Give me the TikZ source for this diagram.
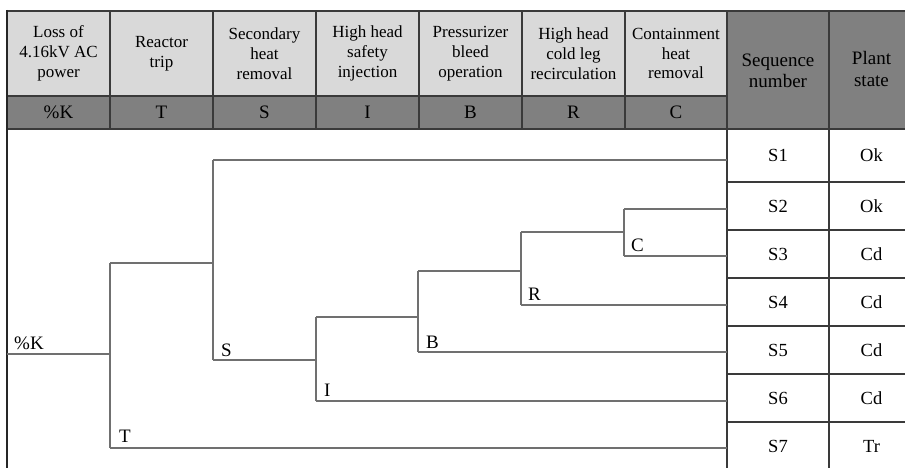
\documentclass[tikz,border=0pt]{standalone}
\usepackage{fontspec}
\setmainfont{Liberation Serif}
\definecolor{hdrlight}{HTML}{D9D9D9}
\definecolor{hdrdark}{HTML}{808080}
\definecolor{gridcol}{HTML}{3A3A3A}
\definecolor{branchcol}{HTML}{707070}
\begin{document}
\begin{tikzpicture}[x=1pt,y=-1pt,
  gridline/.style={draw=gridcol,line width=1.3pt},
  frameline/.style={draw=black!85,line width=2pt},
  branch/.style={draw=branchcol,line width=1.2pt},
  hdrtext/.style={align=center,inner sep=0pt,font=\fontsize{17}{19.8}\selectfont},
  codetext/.style={inner sep=0pt,font=\fontsize{19}{22}\selectfont},
  bighdr/.style={align=center,inner sep=0pt,font=\fontsize{19}{21.6}\selectfont},
  celltext/.style={inner sep=0pt,font=\fontsize{18.5}{22}\selectfont},
  branchlabel/.style={anchor=base west,inner sep=0pt,font=\fontsize{19}{22}\selectfont}]
\useasboundingbox (0,0) rectangle (905,468);
\clip (0,0) rectangle (905,468);

% header backgrounds
\fill[hdrlight] (7,11) rectangle (727,96);
\fill[hdrdark] (7,96) rectangle (727,129);
\fill[hdrdark] (727,11) rectangle (915,129);

% header grid
\draw[gridline] (7,11) -- (915,11);
\draw[gridline] (7,96) -- (727,96);
\draw[gridline] (7,129) -- (915,129);
\foreach \x in {110,213,316,419,522,625}
  \draw[gridline] (\x,11) -- (\x,129);
\draw[gridline] (727,11) -- (727,470);
\draw[gridline] (829,11) -- (829,470);
\foreach \y in {182,230,278,326,374,422}
  \draw[gridline] (727,\y) -- (915,\y);
\draw[frameline] (7,10) -- (7,470);

% function event headers
\node[hdrtext] (h1) at (58.5,53.5) {Loss of\\4.16kV AC\\power};
\node[hdrtext] (h2) at (161.5,53.5) {Reactor\\trip};
\node[hdrtext] (h3) at (264.5,53.5) {Secondary\\heat\\removal};
\node[hdrtext] (h4) at (367.5,53.5) {High head\\safety\\injection};
\node[hdrtext] (h5) at (470.5,53.5) {Pressurizer\\bleed\\operation};
\node[hdrtext] (h6) at (573.5,53.5) {High head\\cold leg\\recirculation};
\node[hdrtext] (h7) at (676,53.5) {Containment\\heat\\removal};

% event codes
\node[codetext] (c1) at (58.5,112.5) {\%K};
\node[codetext] (c2) at (161.5,112.5) {T};
\node[codetext] (c3) at (264.5,112.5) {S};
\node[codetext] (c4) at (367.5,112.5) {I};
\node[codetext] (c5) at (470.5,112.5) {B};
\node[codetext] (c6) at (573.5,112.5) {R};
\node[codetext] (c7) at (676,112.5) {C};

\node[bighdr] (seqh) at (778,71) {Sequence\\number};
\node[bighdr] (plh) at (871.5,69) {Plant\\state};

% sequence rows
\foreach \n/\y/\st in {1/155.5/Ok,2/206/Ok,3/254/Cd,4/302/Cd,5/350/Cd,6/398/Cd,7/446/Tr}{
  \node[celltext] (s\n) at (778,\y) {S\n};
  \node[celltext] (p\n) at (871.5,\y) {\st};
}

% event tree branch points
\coordinate (root) at (7,354);
\coordinate (tT) at (110,263); \coordinate (bT) at (110,448);
\coordinate (tS) at (213,160); \coordinate (bS) at (213,360);
\coordinate (tI) at (316,317); \coordinate (bI) at (316,401);
\coordinate (tB) at (418,271); \coordinate (bB) at (418,352);
\coordinate (tR) at (521,232); \coordinate (bR) at (521,305);
\coordinate (tC) at (624,209); \coordinate (bC) at (624,256);
\foreach \n/\y in {1/160,2/209,3/256,4/305,5/352,6/401,7/448}
  \coordinate (e\n) at (727,\y);

% event tree
\draw[branch] (root) -- (root -| tT);
\draw[branch] (tT) -- (bT);
\draw[branch] (tT) -- (tT -| tS);
\draw[branch] (tS) -- (bS);
\draw[branch] (tS) -- (e1);
\draw[branch] (bS) -- (bS -| tI);
\draw[branch] (tI) -- (bI);
\draw[branch] (bI) -- (e6);
\draw[branch] (tI) -- (tI -| tB);
\draw[branch] (tB) -- (bB);
\draw[branch] (bB) -- (e5);
\draw[branch] (tB) -- (tB -| tR);
\draw[branch] (tR) -- (bR);
\draw[branch] (bR) -- (e4);
\draw[branch] (tR) -- (tR -| tC);
\draw[branch] (tC) -- (bC);
\draw[branch] (tC) -- (e2);
\draw[branch] (bC) -- (e3);
\draw[branch] (bT) -- (e7);

% branch labels
\node[branchlabel] (lK) at (14,349) {\%K};
\node[branchlabel] (lT) at (119,442) {T};
\node[branchlabel] (lS) at (221,356.5) {S};
\node[branchlabel] (lI) at (324,396.5) {I};
\node[branchlabel] (lB) at (426,348) {B};
\node[branchlabel] (lR) at (528,300) {R};
\node[branchlabel] (lC) at (631,251.5) {C};
\end{tikzpicture}
\end{document}
